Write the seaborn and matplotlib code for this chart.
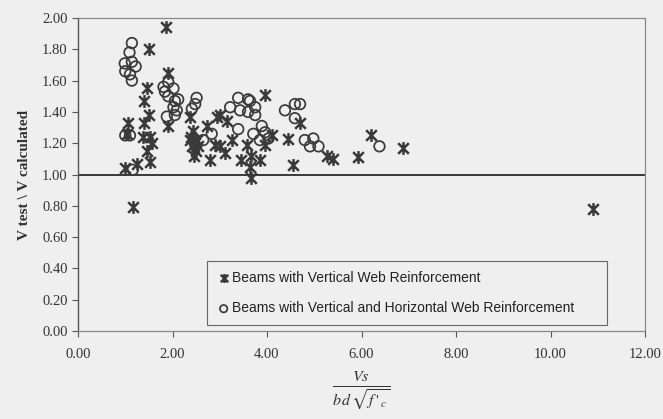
import matplotlib
matplotlib.use("Agg")
import matplotlib.pyplot as plt
import seaborn as sns
import pandas as pd
from matplotlib.path import Path

# ---- data ----
vert_x = [1.86, 1.50, 1.90, 1.45, 1.40, 1.50, 1.40, 1.06, 1.38, 1.52, 1.56, 1.47, 1.52,
          1.00, 1.24, 1.16, 1.04, 1.91, 2.37, 2.43, 2.72, 2.94, 3.15, 3.00,
          2.38, 2.42, 2.47, 2.50, 2.45, 2.40, 2.52, 2.55, 2.79, 2.90, 3.00, 3.11,
          3.25, 3.46, 3.57, 3.67, 3.85, 3.64, 3.67, 3.96, 3.96, 4.10, 4.45, 4.56,
          4.70, 5.26, 5.39, 5.93, 6.21, 6.88, 10.90]
vert_y = [1.94, 1.80, 1.65, 1.55, 1.47, 1.38, 1.33, 1.33, 1.24, 1.24, 1.20, 1.15, 1.08,
          1.04, 1.07, 0.79, 1.26, 1.31, 1.37, 1.28, 1.31, 1.37, 1.34, 1.38,
          1.22, 1.18, 1.20, 1.15, 1.12, 1.24, 1.22, 1.18, 1.09, 1.19, 1.18, 1.14,
          1.22, 1.09, 1.19, 1.12, 1.09, 1.05, 0.975, 1.51, 1.19, 1.25, 1.23, 1.06,
          1.33, 1.12, 1.10, 1.11, 1.25, 1.17, 0.78]

both_x = [1.14, 1.09, 0.99, 1.14, 1.22, 1.00, 1.10, 1.14, 1.81, 1.91, 1.84, 2.02,
          1.91, 2.05, 2.12, 2.02, 1.88, 2.09, 2.05, 1.00, 1.10, 1.16, 2.51, 2.48,
          2.41, 3.39, 3.60, 3.22, 3.43, 3.64, 3.60, 3.75, 3.75, 3.39, 3.71, 3.96,
          4.03, 3.85, 3.89, 2.65, 2.83, 4.38, 4.59, 4.70, 4.59, 4.80, 4.98, 4.91,
          5.09, 6.38]
both_y = [1.84, 1.78, 1.71, 1.72, 1.69, 1.66, 1.64, 1.60, 1.56, 1.59, 1.53, 1.55,
          1.50, 1.47, 1.48, 1.43, 1.37, 1.41, 1.38, 1.25, 1.25, 1.03, 1.49, 1.45,
          1.42, 1.49, 1.48, 1.43, 1.41, 1.47, 1.40, 1.43, 1.38, 1.29, 1.26, 1.27,
          1.23, 1.22, 1.31, 1.22, 1.26, 1.41, 1.45, 1.45, 1.36, 1.22, 1.23, 1.18,
          1.18, 1.18]

label_vert = "Beams with Vertical Web Reinforcement"
label_both = "Beams with Vertical and Horizontal Web Reinforcement"
x_ticks = [0, 2, 4, 6, 8, 10, 12]
y_ticks = [0.0, 0.2, 0.4, 0.6, 0.8, 1.0, 1.2, 1.4, 1.6, 1.8, 2.0]

df_v = pd.DataFrame({"x": vert_x, "y": vert_y})
df_b = pd.DataFrame({"x": both_x, "y": both_y})

bg = "#efefef"
mc = "#3a3a3a"
plt.rcParams["mathtext.fontset"] = "stix"

fig = plt.figure(figsize=(6.63, 4.19), dpi=100, facecolor=bg)
ax = fig.add_axes([78/663, 1-331/419, (645-78)/663, (331-18)/419])
ax.set_facecolor(bg)

star = Path([(-1, -1), (1, 1), (-1, 1), (1, -1), (0, -1.2), (0, 1.2)],
            [Path.MOVETO, Path.LINETO, Path.MOVETO, Path.LINETO, Path.MOVETO, Path.LINETO])

ax.axhline(1.0, color="#2a2a2a", lw=1.3, zorder=1)

sns.scatterplot(data=df_v, x="x", y="y", ax=ax, marker=star, s=85, color=mc,
                edgecolor=mc, facecolor=mc, linewidth=1.8, label=label_vert, zorder=3)
sns.scatterplot(data=df_b, x="x", y="y", ax=ax, marker="o", s=58, facecolors="none",
                edgecolor=mc, linewidth=1.25, label=label_both, zorder=3)

ax.set_xlim(0, 12)
ax.set_ylim(0, 2)
ax.set_xticks(x_ticks)
ax.set_yticks(y_ticks)
ax.set_xticklabels([f"{v:.2f}" for v in x_ticks], family="Liberation Serif", fontsize=10.5, color="#333333")
ax.set_yticklabels([f"{v:.2f}" for v in y_ticks], family="Liberation Serif", fontsize=10.5, color="#333333")
ax.tick_params(axis="both", direction="out", length=4, color="#555555", width=0.8)
ax.tick_params(axis="x", pad=8)

for side in ["top", "right", "bottom"]:
    ax.spines[side].set_linestyle((0, (1, 1)))
    ax.spines[side].set_color("#888888")
    ax.spines[side].set_linewidth(0.9)
ax.spines["left"].set_color("#555555")
ax.spines["left"].set_linewidth(1.0)

ax.set_xlabel(r"$\frac{Vs}{b\,d\,\sqrt{f\,'_{\ c}}}$", fontsize=16.5, color="#333333", labelpad=6)
ax.set_ylabel("V test \\ V calculated", family="Liberation Serif", fontweight="bold",
              fontsize=11, color="#333333", labelpad=8)

leg = ax.legend(loc="lower left", bbox_to_anchor=(0.2275, 0.019, 0.705, 0.2), mode="expand",
                prop={"family": "Liberation Sans", "size": 10}, frameon=True, fancybox=False,
                edgecolor="#666666", facecolor=bg, framealpha=1, labelspacing=1.2,
                handletextpad=0.1, handlelength=1.0, borderpad=0.7, borderaxespad=0,
                markerscale=0.7)
leg.get_frame().set_linewidth(0.8)
for t in leg.get_texts():
    t.set_color("#222222")

fig.savefig("out.png", dpi=100, facecolor=bg)
